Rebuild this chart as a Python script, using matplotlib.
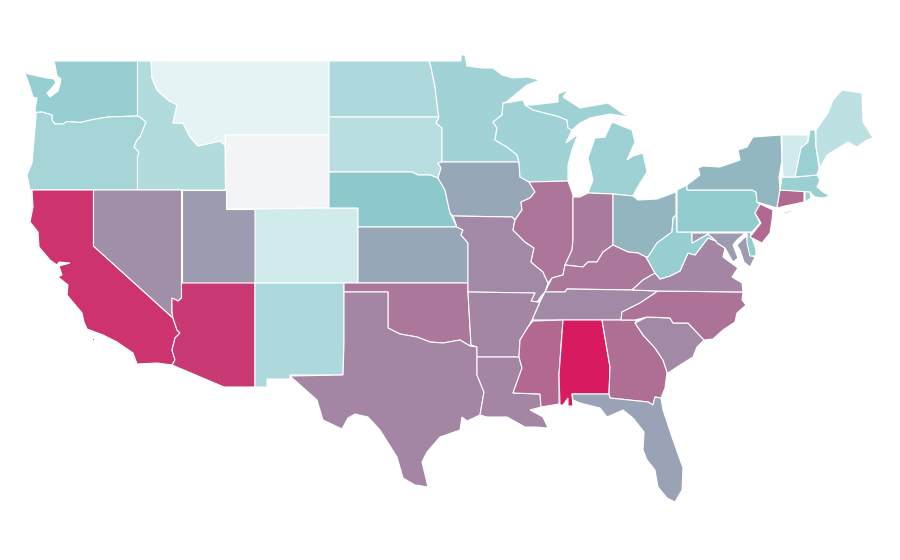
''' US states choropleth '''
import matplotlib
matplotlib.use('Agg')
import matplotlib.pyplot as plt
from matplotlib.colors import LinearSegmentedColormap, Normalize

states = ['WA','OR','CA','ID','MT','WY','NV','UT','AZ','CO','NM','ND','SD','NE','KS','OK','TX',
          'MN','IA','MO','AR','LA','WI','IL','MI','IN','OH','KY','TN','MS','AL','GA','FL','SC','NC',
          'VA','WV','MD','DE','PA','NY','NJ','CT','RI','MA','VT','NH','ME']
values = [.27,.23,.91,.19,.04,0,.56,.50,.88,.10,.20,.20,.17,.30,.45,.65,.60,
          .24,.45,.58,.60,.60,.24,.66,.25,.64,.39,.65,.58,.71,1,.68,.47,.58,.67,
          .60,.27,.50,.28,.28,.38,.71,.71,.26,.26,.10,.26,.16]

# outlines, in map units (no geodata available offline)
outlines = {
 'WA': [[(54,61),(137.5,61),(137.5,116),(108,117),(93,119.5),(80,122.5),(67,121.5),(63,124),(55,124),(52,120),(52,115),(42,112),(36,112.5),(35,110),(37,98),(33,97),(30,87),(25,73),(33,75),(42,77),(47,78),(54,79),(56,83),(50,90),(47,93),(50,97),(58,91),(60,84),(61,79),(57,76),(55,65)]],
 'OR': [[(36,112.5),(42,112),(52,115),(52,120),(55,124),(63,124),(67,121.5),(80,122.5),(93,119.5),(108,117),(137.5,116),(140,117),(146,122),(140,137),(137,140),(134,147),(139,152),(137.5,157),(137.5,190),(30,190),(27,175),(32,163),(34,140),(36,117)]],
 'CA': [[(32,190),(93.5,190),(93.5,246),(173,318),(177,330),(180,333),(175,338),(172,350),(175,360),(172,365),(157,363),(137,364),(133,353),(117,342),(103,335),(87,329),(84,322),(82,313),(67,295),(68,285),(58,277),(62,275),(59,266),(70,263),(59,262),(57,265),(50,260),(39,247),(38,232),(30,222),(33,207)],
        [(92,338),(94,338),(94,340),(92,340)]],
 'ID': [[(137.5,61),(151,61),(152,78),(157,90),(168,100),(177,105),(173,123),(183,123),(190,137),(198,146),(220,141),(225,145),(225.5,190),(137.5,190),(137.5,157),(139,152),(134,147),(137,140),(140,137),(146,122),(140,117),(137.5,116)]],
 'MT': [[(151,61),(329,61),(329,135),(225.5,135),(225,145),(220,141),(198,146),(190,137),(183,123),(173,123),(177,105),(168,100),(157,90),(152,78)]],
 'WY': [[(225.5,135),(329,135),(329,208),(225.5,209)]],
 'NV': [[(93.5,190),(181.5,190),(181.5,298),(178,301),(172,298),(172,312),(173,318),(93.5,246)]],
 'UT': [[(181.5,190),(225.5,190),(225.5,209),(255,209),(255,283),(181.5,283)]],
 'AZ': [[(181.5,283),(255,283),(255,387),(224,387),(172,365),(175,360),(172,350),(175,338),(180,333),(177,330),(173,318),(172,312),(172,298),(178,301),(181.5,298)]],
 'CO': [[(255,209),(329,208),(358,208),(358,283),(255,283)]],
 'NM': [[(255,283),(344,283),(344,344),(343,375),(290,375),(290,379),(267,379),(267,387),(255,387)]],
 'ND': [[(329,61),(429,61),(431,67),(435,87),(438,112),(439,117),(329,117)]],
 'SD': [[(329,117),(439,117),(436,123),(442,128),(442,162),(438,163),(441,168),(438,178),(430,175),(418,175),(412,172),(329,172)]],
 'NE': [[(329,172),(412,172),(418,175),(430,175),(438,178),(445,190),(450,213),(457,227),(358,227),(358,208),(329,208)]],
 'KS': [[(358,227),(457,227),(463,230),(461,235),(468,243),(468,283),(358,283)]],
 'OK': [[(344,283),(468,283),(468,292),(471,345),(477,347),(470,346),(460,340),(443,343),(430,342),(417,337),(400,334),(388,328),(388,292),(344,292)]],
 'TX': [[(344,292),(388,292),(388,328),(400,334),(417,337),(430,342),(443,343),(460,340),(470,346),(477,347),(477,375),(484,392),(480,415),(467,421),(462,417),(460,430),(440,437),(427,452),(422,462),(428,487),(415,485),(403,478),(397,457),(380,430),(368,417),(355,414),(348,418),(342,429),(323,420),(317,400),(290,376),(343,375),(344,344)]],
 'MN': [[(429,61),(461,61),(461,55),(465,55),(467,66),(482,68),(493,68),(502,75),(513,78),(527,77),(540,80),(527,85),(505,103),(503,103),(502,115),(493,122),(497,128),(495,140),(507,147),(517,155),(519,162),(442,162),(442,128),(436,123),(439,117),(438,112),(435,87),(431,67)]],
 'IA': [[(442,162),(519,162),(520,177),(529,182),(535,192),(530,198),(521,202),(522,210),(515,220),(512,217),(453,216),(450,213),(445,190),(438,178),(441,168),(438,163)]],
 'MO': [[(453,216),(512,217),(515,220),(513,230),(525,242),(534,248),(531,262),(543,272),(548,283),(545,292),(542,295),(537,302),(531,301),(535,293),(468,292),(468,243),(461,235),(463,230),(457,227)]],
 'AR': [[(468,292),(535,293),(531,301),(537,302),(540,302),(533,318),(528,327),(520,340),(519,357),(477,357),(477,347),(471,345)]],
 'LA': [[(477,357),(519,357),(522,368),(513,393),(540,394),(541,407),(530,410),(543,417),(548,428),(535,427),(525,427),(507,417),(487,417),(480,415),(484,392),(477,375)]],
 'WI': [[(505,103),(523,100),(525,105),(533,110),(557,116),(567,120),(568,128),(572,130),(566,143),(578,134),(572,150),(568,165),(568,181),(529,182),(520,177),(519,162),(517,155),(507,147),(495,140),(497,128),(493,122),(502,115),(503,103)]],
 'IL': [[(529,182),(568,181),(573,195),(573,240),(572,250),(565,265),(563,275),(552,278),(548,283),(543,272),(531,262),(534,248),(525,242),(513,230),(515,220),(522,210),(521,202),(530,198),(535,192)]],
 'MI': [[(573,197),(580,197),(588,193),(593,180),(588,158),(595,138),(605,137),(612,122),(632,130),(635,142),(627,160),(633,156),(643,153),(647,172),(637,188),(633,196),(613,194),(588,193)],
        [(525,105),(532,105),(558,102),(558,94),(568,90),(563,97),(580,108),(608,103),(622,113),(630,117),(610,114),(590,118),(580,123),(572,130),(568,128),(567,120),(557,116),(533,110)]],
 'IN': [[(573,197),(580,197),(588,193),(613,194),(613,245),(603,252),(597,262),(588,262),(583,267),(565,265),(572,250),(573,240)]],
 'OH': [[(613,194),(633,196),(638,200),(657,199),(676,192),(676,215),(673,218),(672,232),(657,243),(648,257),(646,257),(638,253),(628,252),(613,245)]],
 'KY': [[(550,282),(545,292),(565,292),(567,289),(632,290),(643,280),(655,273),(646,257),(638,253),(628,252),(613,245),(603,252),(597,262),(588,262),(583,267),(565,265),(563,275),(552,278)]],
 'TN': [[(545,292),(565,292),(567,289),(632,290),(658,291),(640,303),(622,312),(621,320),(533,320),(533,318),(540,302)]],
 'MS': [[(533,321),(563,320),(559,373),(559,404),(541,407),(540,394),(513,393),(522,368),(519,357),(520,340),(528,327)]],
 'AL': [[(563,320),(602,320),(610,367),(609,394),(572,394),(573,406),(568,406),(568,398),(563,405),(560,405),(559,375)]],
 'GA': [[(602,320),(637,320),(635,323),(643,335),(655,348),(663,360),(667,372),(665,388),(661,398),(655,397),(653,405),(648,402),(610,398),(609,394),(610,367)]],
 'FL': [[(572,394),(609,394),(610,398),(648,402),(653,405),(655,397),(661,398),(663,410),(672,437),(683,468),(682,490),(675,502),(667,498),(658,487),(655,470),(647,460),(643,450),(644,432),(633,418),(623,410),(607,417),(600,408),(580,403),(573,400)]],
 'SC': [[(635,323),(647,317),(670,318),(673,323),(688,323),(704,340),(697,347),(693,357),(680,365),(668,373),(667,372),(663,360),(655,348),(643,335)]],
 'NC': [[(658,291),(743,292),(742,300),(746,305),(737,313),(735,322),(723,330),(713,339),(704,340),(688,323),(673,323),(670,318),(647,317),(635,320),(621,320),(622,312),(640,303)]],
 'VA': [[(655,273),(660,279),(670,276),(680,271),(688,253),(695,255),(708,238),(716,241),(717,243),(725,248),(723,257),(738,268),(732,277),(742,283),(743,292),(658,291),(632,290),(643,280)]],
 'WV': [[(676,215),(677,232),(692,232),(692,243),(708,234),(716,241),(708,238),(695,255),(688,253),(680,271),(670,276),(660,279),(655,273),(646,257),(648,257),(657,243),(672,232),(673,218)]],
 'MD': [[(692,233),(745,233),(737,240),(733,245),(738,258),(733,262),(725,248),(717,243),(716,241),(708,234),(692,243)],
        [(746,236),(752,256),(755,257),(750,267),(744,262),(740,250),(737,245)]],
 'DE': [[(747,232),(750,232),(756,250),(756,256),(750,256),(747,243)]],
 'PA': [[(677,190),(687,185),(687,190),(752,190),(756,192),(757,202),(760,204),(755,213),(760,223),(752,232),(677,232)]],
 'NY': [[(781,135),(782,160),(779,177),(780,190),(777,208),(757,202),(756,192),(752,190),(687,190),(687,185),(700,175),(698,168),(703,166),(720,167),(740,160),(738,150),(747,147),(753,137)],
        [(772,215),(802,208),(788,213)]],
 'NJ': [[(760,204),(773,210),(772,220),(770,233),(762,243),(750,237),(757,228),(761,223),(755,213)]],
 'CT': [[(780,190),(804,191),(804,202),(785,206),(777,208)]],
 'RI': [[(805,191),(810,192),(811,198),(805,202)]],
 'MA': [[(782,177),(795,177),(817,175),(820,180),(817,187),(823,192),(830,196),(823,198),(815,197),(810,192),(780,190)]],
 'VT': [[(782,135),(808,135),(808,142),(801,148),(795,177),(783,177),(782,160)]],
 'NH': [[(810,130),(815,130),(816,147),(819,168),(817,175),(795,177),(801,148),(808,142)]],
 'ME': [[(816,130),(828,113),(833,100),(842,90),(862,93),(863,122),(873,138),(867,140),(857,147),(848,142),(827,155),(820,168),(816,147)]],
}

cmap = LinearSegmentedColormap.from_list('teal_pink',
    [(0,'#f3f4f6'),(.04,'#e5f3f5'),(.3,'#8cc9cc'),(.6,'#a485a3'),(1,'#d81b60')])
norm = Normalize(0,1)

fig = plt.figure(figsize=(9,5.6),dpi=100)
ax = fig.add_axes([0,0,1,1])

for st,val in zip(states,values):
    for part in outlines[st]:
        xs,ys = zip(*part)
        ax.fill(xs,ys,facecolor=cmap(norm(val)),edgecolor='white',linewidth=.8)

ax.set_xlim(0,900)
ax.set_ylim(560,0)
ax.axis('off')
fig.savefig('out.png',dpi=100)
